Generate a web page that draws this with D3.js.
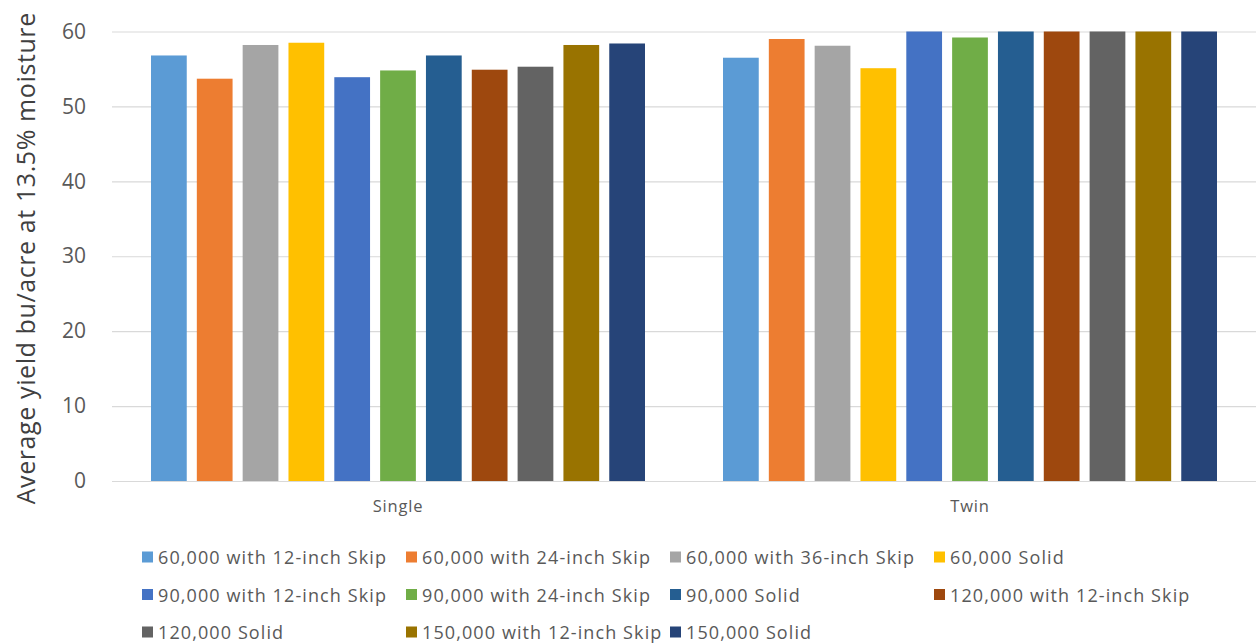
<!DOCTYPE html>
<html>
<head>
<meta charset="utf-8">
<script src="https://cdn.jsdelivr.net/npm/d3@7"></script>
<style>
  html, body { margin: 0; padding: 0; background: #ffffff; }
  svg { display: block; font-family: "Open Sans", sans-serif; }
</style>
</head>
<body>
<svg id="chart" width="1259" height="644"></svg>
<script>
// Row spacing groups on the x axis
const groups = ["Single", "Twin"];

// Plant population / skip pattern treatments
const series = [
  "60,000 with 12-inch Skip",
  "60,000 with 24-inch Skip",
  "60,000 with 36-inch Skip",
  "60,000 Solid",
  "90,000 with 12-inch Skip",
  "90,000 with 24-inch Skip",
  "90,000 Solid",
  "120,000 with 12-inch Skip",
  "120,000 Solid",
  "150,000 with 12-inch Skip",
  "150,000 Solid"
];

// Average yield (bu/acre at 13.5% moisture), one value per treatment
const singleYield = [56.8, 53.7, 58.2, 58.5, 53.9, 54.8, 56.8, 54.9, 55.3, 58.2, 58.4];
const twinYield   = [56.5, 59.0, 58.1, 55.1, 60.0, 59.2, 60.0, 60.0, 60.0, 60.0, 60.0];

const yTicks = [0, 10, 20, 30, 40, 50, 60];

const colors = [
  "#5B9BD5", "#ED7D31", "#A5A5A5", "#FFC000", "#4472C4", "#70AD47",
  "#255E91", "#9E480E", "#636363", "#997300", "#264478"
];

const yieldByGroup = { Single: singleYield, Twin: twinYield };

const svg = d3.select("#chart");

const plot = { left: 112, right: 1256, top: 31.5, bottom: 481 };

const x0 = d3.scaleBand().domain(groups).range([plot.left, plot.right]).padding(0);
const innerPad = 39;
const x1 = d3.scaleBand()
  .domain(series)
  .range([innerPad, x0.bandwidth() - innerPad])
  .paddingInner(0.22)
  .paddingOuter(0);

const y = d3.scaleLinear().domain([0, 60]).range([plot.bottom, plot.top]);

const color = d3.scaleOrdinal().domain(series).range(colors);

// Horizontal gridlines and y tick labels
const yAxis = d3.axisLeft(y)
  .tickValues(yTicks)
  .tickSize(-(plot.right - plot.left))
  .tickPadding(26);

const gy = svg.append("g")
  .attr("transform", `translate(${plot.left},0)`)
  .call(yAxis);
gy.select(".domain").remove();
gy.selectAll(".tick line").attr("stroke", "#d9d9d9").attr("stroke-width", 1.2);
gy.selectAll(".tick text")
  .attr("fill", "#595959")
  .style("font-size", "21px")
  .style("font-family", "'Open Sans', sans-serif");

// Bars
const groupG = svg.append("g")
  .selectAll("g")
  .data(groups)
  .join("g")
  .attr("transform", d => `translate(${x0(d)},0)`);

groupG.selectAll("rect")
  .data(g => series.map((s, i) => ({ s, v: yieldByGroup[g][i] })))
  .join("rect")
  .attr("x", d => x1(d.s))
  .attr("width", x1.bandwidth())
  .attr("y", d => y(d.v))
  .attr("height", d => y(0) - y(d.v))
  .attr("fill", d => color(d.s));

// Category labels
const xAxis = d3.axisBottom(x0).tickSize(0).tickPadding(19);
const gx = svg.append("g")
  .attr("transform", `translate(0,${plot.bottom})`)
  .call(xAxis);
gx.select(".domain").remove();
gx.selectAll(".tick text")
  .attr("fill", "#595959")
  .style("font-size", "16.5px")
  .style("letter-spacing", "0.8px")
  .style("font-family", "'Open Sans', sans-serif");

// Y axis title
svg.append("text")
  .attr("transform", `translate(25,${(plot.top + plot.bottom) / 2 + 2}) rotate(-90)`)
  .attr("text-anchor", "middle")
  .attr("dominant-baseline", "central")
  .attr("fill", "#404040")
  .style("font-size", "25px")
  .style("letter-spacing", "0.6px")
  .text("Average yield bu/acre at 13.5% moisture");

// Legend: 4 columns, wrapping rows
const legendCols = 4;
const colW = 264;
const rowH = 37.5;
const legend = svg.append("g").attr("transform", "translate(142,557)");
const items = legend.selectAll("g")
  .data(series)
  .join("g")
  .attr("transform", (d, i) => `translate(${(i % legendCols) * colW},${Math.floor(i / legendCols) * rowH})`);
items.append("rect")
  .attr("x", 0).attr("y", -5.5)
  .attr("width", 11).attr("height", 11)
  .attr("fill", d => color(d));
items.append("text")
  .attr("x", 16)
  .attr("dominant-baseline", "central")
  .attr("fill", "#595959")
  .style("font-size", "18px")
  .style("letter-spacing", "1.1px")
  .text(d => d);
</script>
</body>
</html>
